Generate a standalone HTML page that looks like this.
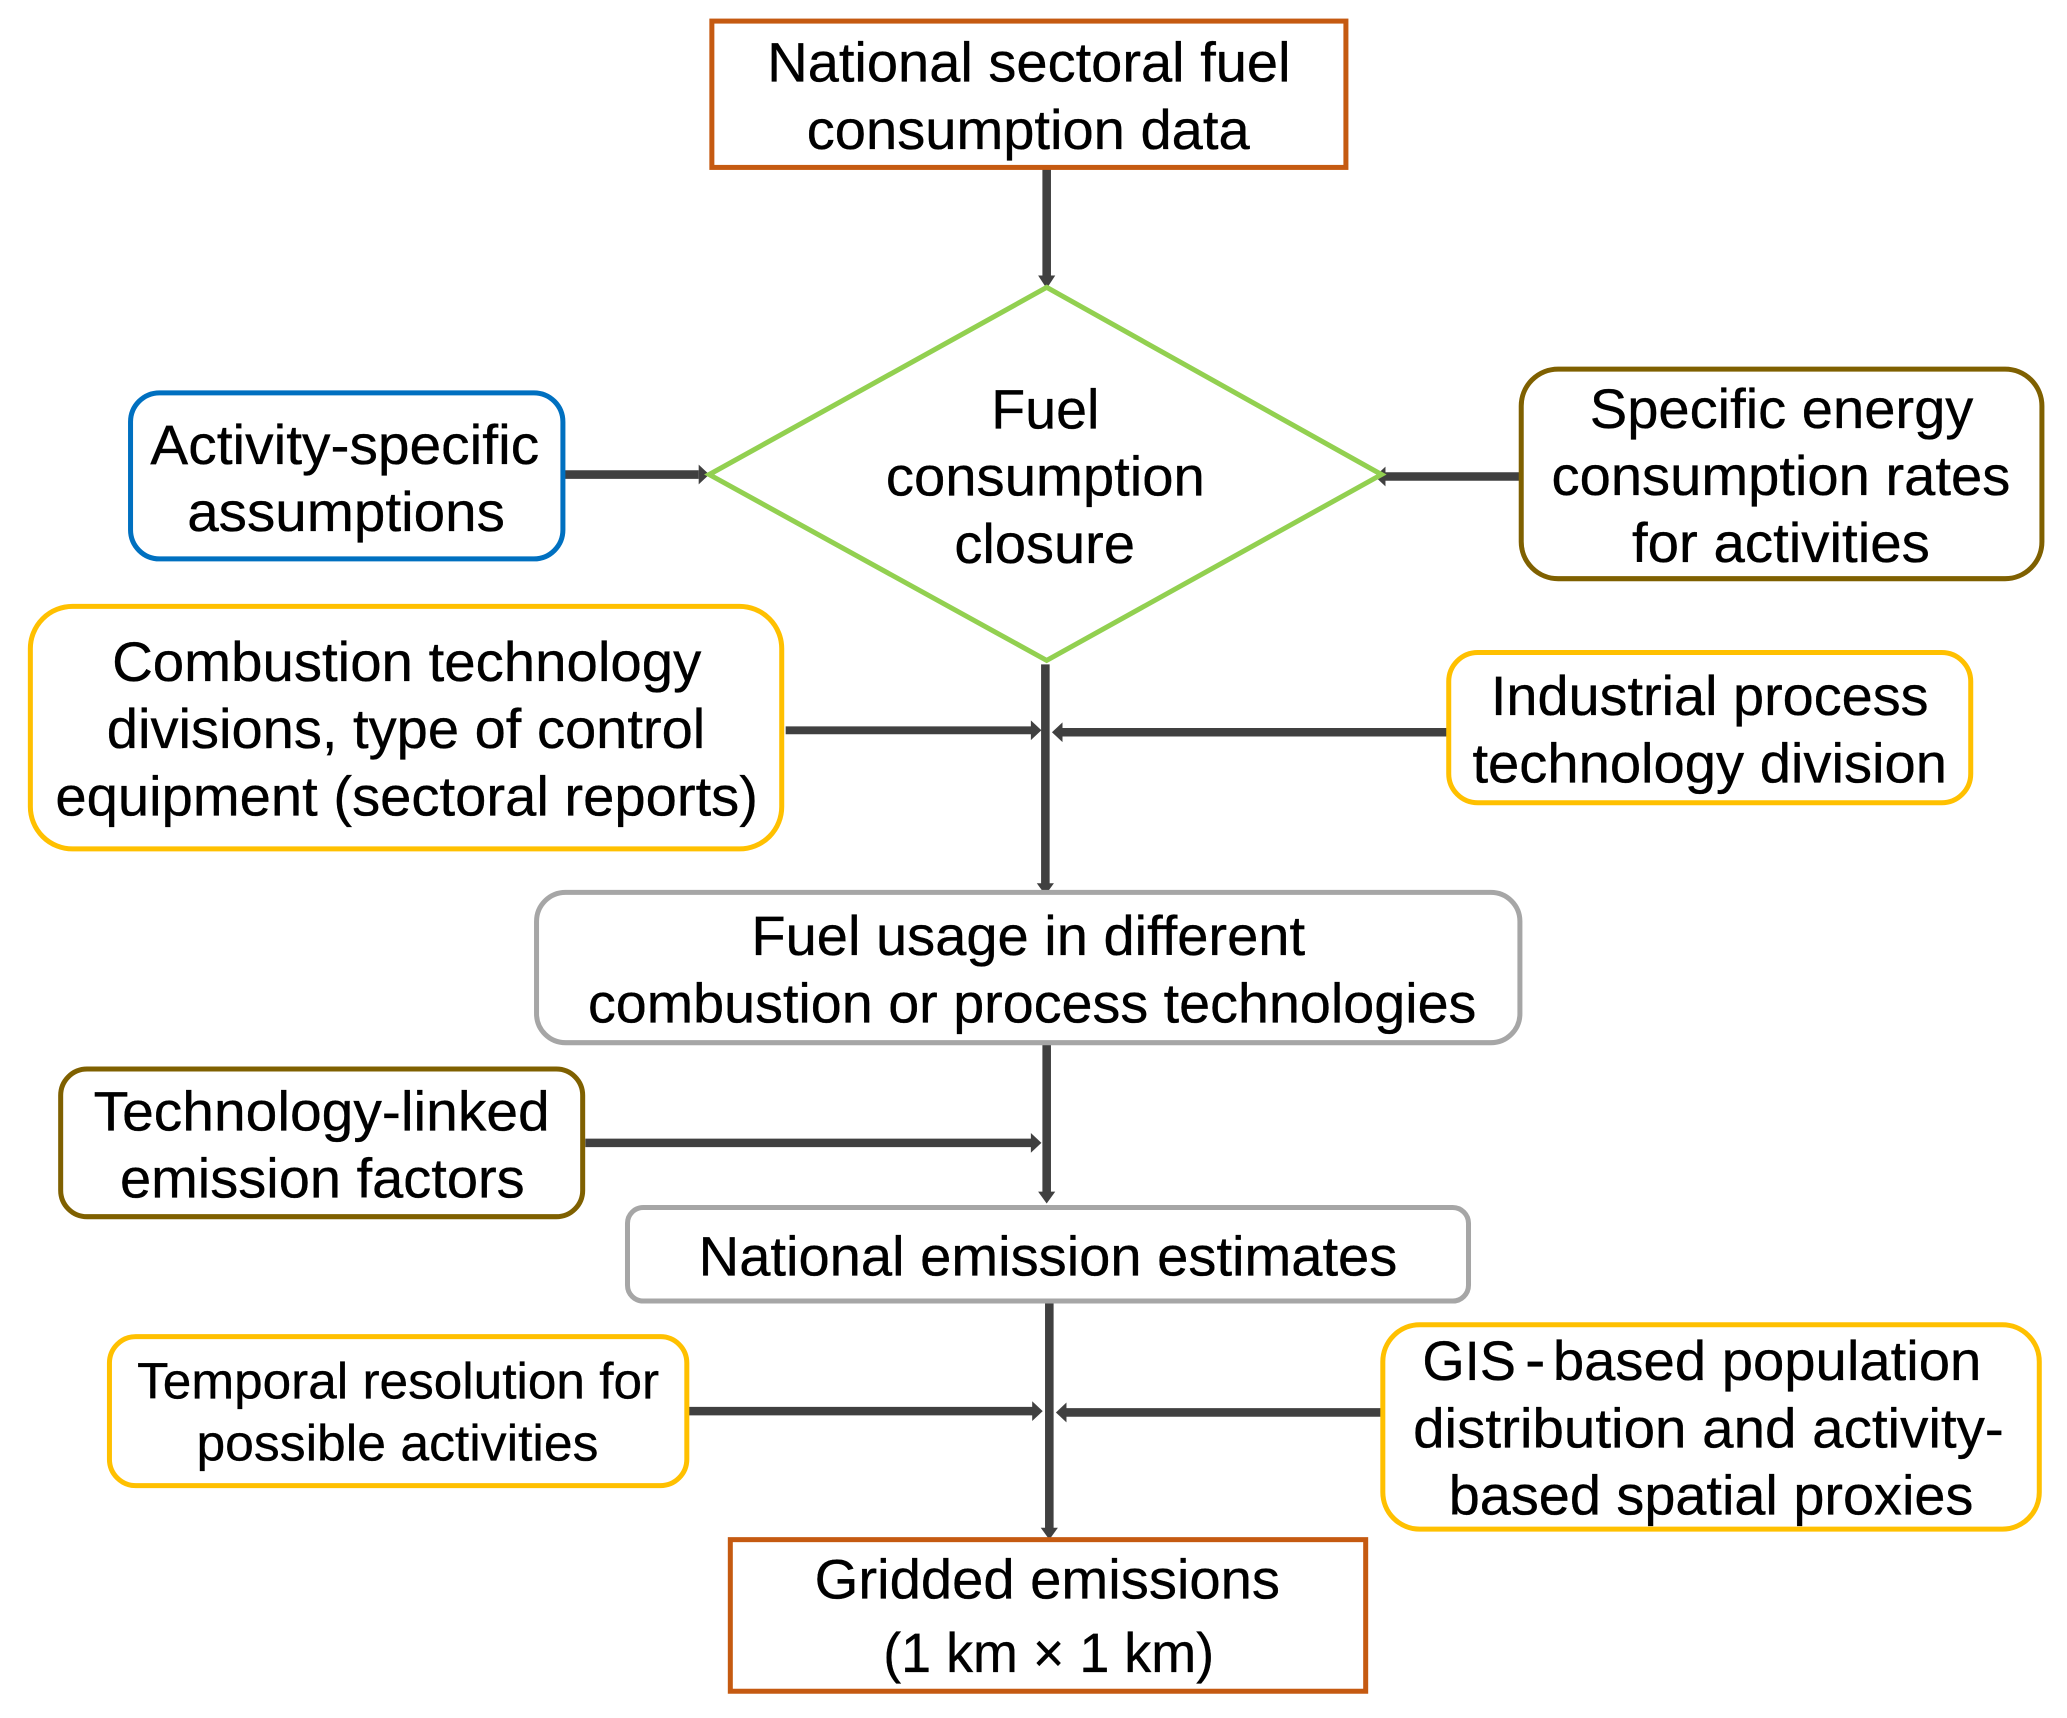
<!DOCTYPE html>
<html><head><meta charset="utf-8"><style>
html,body{margin:0;padding:0;background:#fff;width:2067px;height:1718px;overflow:hidden}
svg{display:block}
text{font-family:"Liberation Sans",Arial,sans-serif;font-size:42px;fill:#000;stroke:#000;stroke-width:0.25}
.s{font-size:38.5px}
rect,polygon.d{fill:#fff}
line{stroke:#404040;stroke-width:6.5}
polygon.h{fill:#404040}
</style></head><body>
<svg width="2067" height="1718" viewBox="0 0 1568 1303.3" xmlns="http://www.w3.org/2000/svg">
<!-- connectors -->
<line x1="794" y1="127" x2="794" y2="212"/><polygon class="h" points="787.5,209 800.5,209 794,219"/>
<line x1="427" y1="360" x2="530" y2="360"/><polygon class="h" points="530,352.5 530,367.5 538,360"/>
<line x1="1153" y1="361.5" x2="1050" y2="361.5"/><polygon class="h" points="1051,354 1051,369 1043,361.5"/>
<line x1="793" y1="504" x2="793" y2="672"/><polygon class="h" points="786.5,670 799.5,670 793,679"/>
<line x1="596" y1="554" x2="784" y2="554" style="stroke-width:6"/><polygon class="h" points="782,546.5 782,561.5 790,554"/>
<line x1="1098" y1="555.5" x2="805" y2="555.5"/><polygon class="h" points="806,548 806,563 798,555.5"/>
<line x1="794" y1="791" x2="794" y2="906"/><polygon class="h" points="787.5,904 800.5,904 794,913"/>
<line x1="444" y1="867" x2="784" y2="867"/><polygon class="h" points="782,859.5 782,874.5 790,867"/>
<line x1="796" y1="987" x2="796" y2="1161"/><polygon class="h" points="789.5,1159 802.5,1159 796,1168"/>
<line x1="522" y1="1070.5" x2="785" y2="1070.5"/><polygon class="h" points="783,1063 783,1078 791,1070.5"/>
<line x1="1049" y1="1071.5" x2="808" y2="1071.5"/><polygon class="h" points="809,1064 809,1079 801,1071.5"/>
<!-- shapes -->
<rect x="540" y="16" width="481" height="111" stroke="#C55A11" stroke-width="3.8"/>
<polygon class="d" points="794,218 1048,360 794,501 538,360" stroke="#92D050" stroke-width="3.8"/>
<rect x="99" y="298" width="328" height="126" rx="22" stroke="#0070C0" stroke-width="3.8"/>
<rect x="1154" y="280" width="395" height="159" rx="28" stroke="#7F6000" stroke-width="3.8"/>
<rect x="23" y="460" width="570" height="184" rx="32" stroke="#FFC000" stroke-width="3.8"/>
<rect x="1099" y="495" width="396" height="114" rx="22" stroke="#FFC000" stroke-width="3.8"/>
<rect x="407" y="677" width="746" height="114" rx="22" stroke="#A6A6A6" stroke-width="3.8"/>
<rect x="46" y="811" width="396" height="112" rx="20" stroke="#7F6000" stroke-width="3.8"/>
<rect x="476" y="916" width="638" height="71" rx="12" stroke="#A6A6A6" stroke-width="3.8"/>
<rect x="83" y="1014" width="438" height="113" rx="20" stroke="#FFC000" stroke-width="3.8"/>
<rect x="1049" y="1005" width="498" height="155" rx="28" stroke="#FFC000" stroke-width="3.8"/>
<rect x="554" y="1168" width="482" height="115" stroke="#C55A11" stroke-width="3.8"/>
<!-- labels -->
<text x="582" y="62" textLength="397" lengthAdjust="spacingAndGlyphs">National sectoral fuel</text>
<text x="612" y="113" textLength="336" lengthAdjust="spacingAndGlyphs">consumption data</text>
<text x="752" y="325" textLength="82" lengthAdjust="spacingAndGlyphs">Fuel</text>
<text x="672" y="376" textLength="242" lengthAdjust="spacingAndGlyphs">consumption</text>
<text x="724" y="427" textLength="137" lengthAdjust="spacingAndGlyphs">closure</text>
<text x="114" y="352" textLength="295" lengthAdjust="spacingAndGlyphs">Activity-specific</text>
<text x="142" y="403" textLength="241" lengthAdjust="spacingAndGlyphs">assumptions</text>
<text x="1206" y="324.5" textLength="291" lengthAdjust="spacingAndGlyphs">Specific energy</text>
<text x="1177" y="375.5" textLength="348" lengthAdjust="spacingAndGlyphs">consumption rates</text>
<text x="1238" y="426.5" textLength="226" lengthAdjust="spacingAndGlyphs">for activities</text>
<text x="85" y="516.5" textLength="447" lengthAdjust="spacingAndGlyphs">Combustion technology</text>
<text x="81" y="567.5" textLength="454" lengthAdjust="spacingAndGlyphs">divisions, type of control</text>
<text x="42" y="618.5" textLength="533" lengthAdjust="spacingAndGlyphs">equipment (sectoral reports)</text>
<text x="1131" y="542.5" textLength="332" lengthAdjust="spacingAndGlyphs">Industrial process</text>
<text x="1117" y="593.5" textLength="360" lengthAdjust="spacingAndGlyphs">technology division</text>
<text x="570" y="724.5" textLength="420" lengthAdjust="spacingAndGlyphs">Fuel usage in different</text>
<text x="446" y="775.5" textLength="674" lengthAdjust="spacingAndGlyphs">combustion or process technologies</text>
<text x="71" y="857.5" textLength="346" lengthAdjust="spacingAndGlyphs">Technology-linked</text>
<text x="91" y="908.5" textLength="307" lengthAdjust="spacingAndGlyphs">emission factors</text>
<text x="530" y="967.5" textLength="530" lengthAdjust="spacingAndGlyphs">National emission estimates</text>
<text class="s" x="104" y="1061" textLength="396" lengthAdjust="spacingAndGlyphs">Temporal resolution for</text>
<text class="s" x="149" y="1108" textLength="305" lengthAdjust="spacingAndGlyphs">possible activities</text>
<text x="1079" y="1047" textLength="71" lengthAdjust="spacingAndGlyphs">GIS</text>
<text x="1157" y="1047" style="font-size:46px">-</text>
<text x="1178" y="1047" textLength="325" lengthAdjust="spacingAndGlyphs">based population</text>
<text x="1072" y="1098" textLength="448" lengthAdjust="spacingAndGlyphs">distribution and activity-</text>
<text x="1099" y="1149" textLength="398" lengthAdjust="spacingAndGlyphs">based spatial proxies</text>
<text x="618" y="1212.5" textLength="353" lengthAdjust="spacingAndGlyphs">Gridded emissions</text>
<text x="670" y="1268.5" textLength="251" lengthAdjust="spacingAndGlyphs">(1 km × 1 km)</text>
</svg>
</body></html>
